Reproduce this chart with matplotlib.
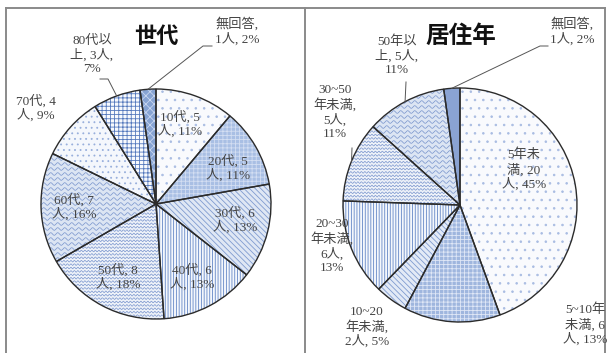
import numpy as np
import matplotlib.pyplot as plt

plt.rcParams['hatch.linewidth'] = 0.6
LABEL_FONT = ['Liberation Serif', 'Noto Sans CJK JP']
TITLE_FONT = ['Noto Sans CJK JP']

W, H = 611, 353

# 世代
age_labels = ['10代, 5\n人, 11%', '20代, 5\n人, 11%', '30代, 6\n人, 13%',
              '40代, 6\n人, 13%', '50代, 8\n人, 18%', '60代, 7\n人, 16%',
              '70代, 4\n人, 9%', '80代以\n上, 3人,\n7%', '無回答,\n1人, 2%']
age_counts = [5, 5, 6, 6, 8, 7, 4, 3, 1]

# 居住年
res_labels = ['5年未\n満, 20\n人, 45%', '5~10年\n未満, 6\n人, 13%',
              '10~20\n年未満,\n2人, 5%', '20~30\n年未満,\n6人,\n13%',
              '30~50\n年未満,\n5人,\n11%', '50年以\n上, 5人,\n11%',
              '無回答,\n1人, 2%']
res_counts = [20, 6, 2, 6, 5, 5, 1]

# fill styles: face, hatch, hatch colour, wave (gap, amplitude, wavelength)
age_face = ['#f9fafd', '#a9bfe4', '#dfe7f4', '#f4f7fc', '#eef2f9', '#dce5f3',
            '#f4f7fc', '#f7f9fd', '#86a3d3']
age_hatch = ['..', '++++', '\\\\\\\\\\\\', '||||||', '', '', '...', '++++', 'xxxx']
age_hcol = ['#a9bce2', '#d3def2', '#7f9bd0', '#6386c6', '#7793cc', '#7793cc',
            '#98afdc', '#5579bd', '#c8d6ef']
age_wave = [None, None, None, None, (3.4, 0.8, 3.5), (5.0, 1.3, 7.0), None, None, None]

res_face = ['#f9fafd', '#9fb6de', '#e3eaf6', '#f4f7fc', '#eef2f9', '#dce5f3', '#8aa3d3']
res_hatch = ['..', '++++', '\\\\\\\\\\\\', '||||||', '', '', '']
res_hcol = ['#a9bce2', '#dfe7f6', '#7f9bd0', '#6386c6', '#7793cc', '#7793cc', '#8aa3d3']
res_wave = [None, None, None, None, (3.4, 0.8, 3.5), (5.0, 1.3, 7.0), None]

# label centres in pixels (x, y from top)
age_pos = [(180, 124), (228, 168), (235, 220), (192, 277), (118, 277),
           (74, 207), (36, 108), (92, 55), (237, 31)]
res_pos = [(524, 170), (585, 325), (367, 327), (332, 246), (335, 112),
           (397, 56), (572, 31)]


def draw_pie(ax, counts, cx, cy, r, faces, hatches, hcols, waves):
    wedges, _ = ax.pie(counts, center=(cx, cy), radius=r, startangle=90,
                       counterclock=False, frame=True,
                       wedgeprops=dict(linewidth=0))
    for w, fc, h, hc, wv in zip(wedges, faces, hatches, hcols, waves):
        w.set_facecolor(fc)
        w.set_edgecolor(hc)
        if h:
            w.set_hatch(h)
        if wv:
            gap, amp, wl = wv
            xs = np.linspace(cx - r, cx + r, 600)
            for y0 in np.arange(cy - r, cy + r, gap):
                ln, = ax.plot(xs, y0 + amp * np.sin(2 * np.pi * xs / wl),
                              color=hc, lw=0.5, zorder=2)
                ln.set_clip_path(w)
    ax.pie(counts, center=(cx, cy), radius=r, startangle=90,
           counterclock=False, frame=True,
           wedgeprops=dict(fill=False, edgecolor='#2b2b2b', linewidth=1.0,
                           zorder=3))
    return wedges


def edge_pt(w, cx, cy, r):
    t = np.deg2rad((w.theta1 + w.theta2) / 2)
    return cx + r * np.cos(t), cy + r * np.sin(t)


def put_labels(ax, labels, pos):
    for lab, (x, y) in zip(labels, pos):
        ax.text(x, H - y, lab, ha='center', va='center', fontsize=9.5,
                color='#444444', family=LABEL_FONT, linespacing=1.15,
                zorder=5)


def leader(ax, pts, end):
    xs = [p[0] for p in pts] + [end[0]]
    ys = [H - p[1] for p in pts] + [end[1]]
    ax.plot(xs, ys, color='#555555', lw=0.7, zorder=4)


fig = plt.figure(figsize=(W / 100, H / 100), dpi=100)
ax = fig.add_axes([0, 0, 1, 1])

# left: 世代
lcx, lcy, lr = 156, H - 204, 115
aw = draw_pie(ax, age_counts, lcx, lcy, lr, age_face, age_hatch, age_hcol, age_wave)
put_labels(ax, age_labels, age_pos)
leader(ax, [(212, 46), (203, 46)], edge_pt(aw[8], lcx, lcy, lr))
leader(ax, [(100, 79), (108, 79)], edge_pt(aw[7], lcx, lcy, lr))
ax.text(156, H - 36, '世代', ha='center', va='center', fontsize=16,
        fontweight='bold', family=TITLE_FONT, color='#111111')

# right: 居住年
rcx, rcy, rr = 460, H - 205, 117
rw = draw_pie(ax, res_counts, rcx, rcy, rr, res_face, res_hatch, res_hcol, res_wave)
put_labels(ax, res_labels, res_pos)
leader(ax, [(548, 46), (540, 46)], edge_pt(rw[6], rcx, rcy, rr))
leader(ax, [(406, 82)], edge_pt(rw[5], rcx, rcy, rr))
leader(ax, [(352, 148)], edge_pt(rw[4], rcx, rcy, rr))
ax.text(461, H - 36, '居住年', ha='center', va='center', fontsize=17,
        fontweight='bold', family=TITLE_FONT, color='#111111')

# panel frame
fc = '#8a8a8a'
ax.plot([6, 6], [0, H - 7.5], color=fc, lw=1.4)
ax.plot([6, 605], [H - 7.5, H - 7.5], color=fc, lw=1.4)
ax.plot([305, 305], [0, H - 7.5], color=fc, lw=1.4)
ax.plot([605, 605], [0, H - 7.5], color=fc, lw=1.4)

ax.set_xlim(0, W)
ax.set_ylim(0, H)
ax.set_aspect('equal')
ax.axis('off')
fig.savefig('out.png', dpi=100)
